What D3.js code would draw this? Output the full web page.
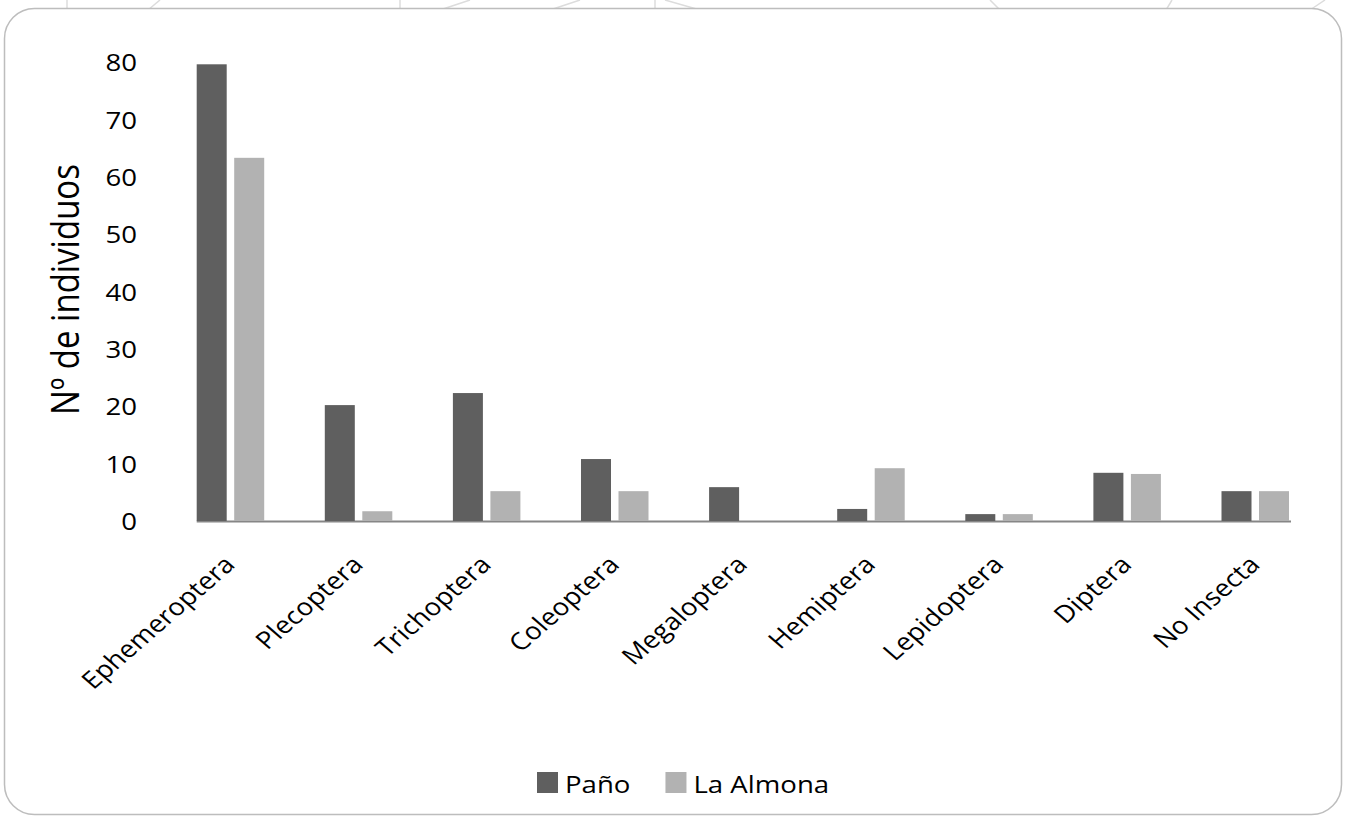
<!DOCTYPE html>
<html>
<head>
<meta charset="utf-8">
<script src="https://cdn.jsdelivr.net/npm/d3@7"></script>
<style>
  body { margin: 0; background: #fff; }
  text { font-family: "Open Sans", "Noto Sans", sans-serif; fill: #000; }
</style>
</head>
<body>
<script>
// data
var categories = ["Ephemeroptera", "Plecoptera", "Trichoptera", "Coleoptera", "Megaloptera",
                  "Hemiptera", "Lepidoptera", "Diptera", "No Insecta"];
var seriesNames = ["Paño", "La Almona"];
var panoValues = [79.6, 20.2, 22.3, 10.8, 5.9, 2.1, 1.2, 8.4, 5.2];
var almonaValues = [63.3, 1.7, 5.2, 5.2, 0, 9.2, 1.2, 8.2, 5.2];
var yTicks = [0, 10, 20, 30, 40, 50, 60, 70, 80];

var w = 1347, h = 822;
var stretch = 1.15; // the original picture is a bit wider than tall, text looks stretched
var colors = ["#5f5f5f", "#b2b2b2"];

var svg = d3.select("body")
    .append("svg")
    .attr("width", w)
    .attr("height", h);

// faint watermark strokes peeking above the frame
var marks = [[67, 0, 67, 10], [160, 0, 148, 10], [400, 0, 400, 10], [470, 0, 440, 10],
             [580, 0, 550, 10], [655, 0, 655, 10], [665, 0, 700, 10], [990, 0, 1000, 10],
             [1172, 0, 1166, 10], [1325, 0, 1310, 10]];
svg.selectAll(".wm")
    .data(marks)
    .enter()
    .append("line")
    .attr("class", "wm")
    .attr("x1", function(d){ return d[0]; })
    .attr("y1", function(d){ return d[1]; })
    .attr("x2", function(d){ return d[2]; })
    .attr("y2", function(d){ return d[3]; })
    .style("stroke", "#dcdcdc")
    .style("stroke-width", 1.5);

// rounded frame
svg.append("rect")
    .attr("x", 4.5)
    .attr("y", 8.5)
    .attr("width", 1337)
    .attr("height", 806)
    .attr("rx", 30)
    .attr("ry", 30)
    .style("fill", "#fff")
    .style("stroke", "#bdbdbd")
    .style("stroke-width", 1.5);

//scales
var x = d3.scaleBand()
    .domain(categories)
    .range([166.4, 1319.3])
    .paddingInner(0.473)
    .paddingOuter(0.2365);

var xSub = d3.scaleBand()
    .domain(seriesNames)
    .range([0, x.bandwidth()])
    .paddingInner(0.2);

var y = d3.scaleLinear()
    .domain([0, 80])
    .range([521, 62]);

// y axis labels only (no line, no ticks)
var yAxis = svg.append("g")
    .attr("class", "axis")
    .attr("transform", "translate(137,0)")
    .call(d3.axisLeft(y).tickValues(yTicks).tickSize(0).tickPadding(0));
yAxis.select(".domain").remove();
yAxis.selectAll("text")
    .attr("x", 0)
    .attr("dy", "0.36em")
    .attr("transform", "scale(" + stretch + ",1)")
    .style("font-size", "24px")
    .style("font-family", "'Open Sans', sans-serif")
    .style("fill", "#000");

// y title
svg.append("text")
    .attr("transform", "translate(79," + ((y(0) + y(80)) / 2 - 2) + ") scale(" + stretch + ",1) rotate(-90)")
    .attr("text-anchor", "middle")
    .style("font-size", "33px")
    .text("Nº de individuos");

// baseline
var lastCat = categories[categories.length - 1];
svg.append("line")
    .attr("x1", x(categories[0]))
    .attr("x2", x(lastCat) + x.bandwidth() + 2)
    .attr("y1", y(0) + 0.5)
    .attr("y2", y(0) + 0.5)
    .style("stroke", "#868686")
    .style("stroke-width", 2);

// bars, one group per category
var rows = categories.map(function(c, i){
    return { cat: c, vals: [panoValues[i], almonaValues[i]] };
});
var groups = svg.selectAll(".grp")
    .data(rows)
    .enter()
    .append("g")
    .attr("class", "grp")
    .attr("transform", function(d){ return "translate(" + x(d.cat) + ",0)"; });

groups.selectAll("rect")
    .data(function(d){
        return d.vals.map(function(v, j){ return { name: seriesNames[j], value: v, k: j }; });
    })
    .enter()
    .append("rect")
    .attr("x", function(d){ return xSub(d.name); })
    .attr("width", xSub.bandwidth())
    .attr("y", function(d){ return y(d.value); })
    .attr("height", function(d){ return y(0) - y(d.value); })
    .style("fill", function(d){ return colors[d.k]; });

// rotated category labels
svg.selectAll(".xlab")
    .data(categories)
    .enter()
    .append("text")
    .attr("class", "xlab")
    .attr("text-anchor", "end")
    .attr("transform", function(d){
        return "translate(" + (x(d) + x.bandwidth() / 2 + 6) + ",566) scale(" + stretch + ",1) rotate(-45)";
    })
    .style("font-size", "24px")
    .text(function(d){ return d; });

// legend
var legend = svg.append("g").attr("class", "legend");
var lx = 537;
seriesNames.forEach(function(name, i){
    legend.append("rect")
        .attr("x", lx)
        .attr("y", 772)
        .attr("width", 21)
        .attr("height", 21)
        .style("fill", colors[i]);
    var t = legend.append("text")
        .attr("transform", "translate(" + (lx + 28) + ",793) scale(" + stretch + ",1)")
        .style("font-size", "24px")
        .text(name);
    lx = lx + 28 + t.node().getComputedTextLength() * stretch + 35;
});
</script>
</body>
</html>
